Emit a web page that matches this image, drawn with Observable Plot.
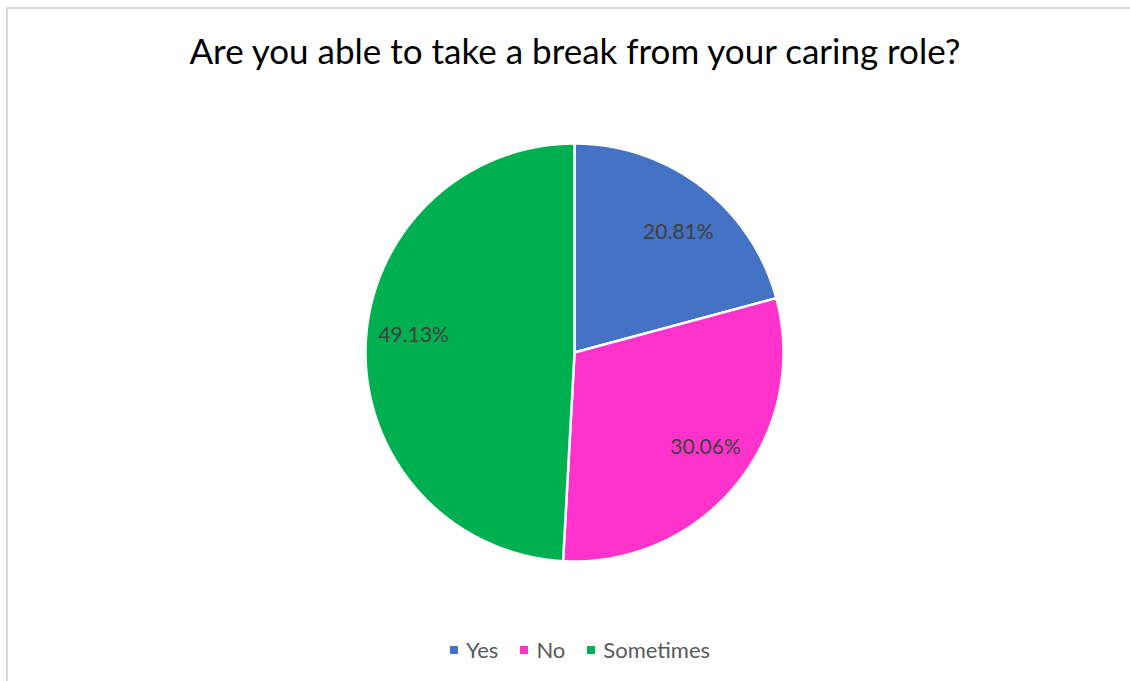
<!DOCTYPE html>
<html>
<head>
<meta charset="utf-8">
<script src="https://cdn.jsdelivr.net/npm/d3@7"></script>
<script src="https://cdn.jsdelivr.net/npm/@observablehq/plot@0.6"></script>
<style>
  html, body { margin: 0; padding: 0; background: #fff; overflow: hidden; }
  body { width: 1130px; height: 681px; position: relative; font-family: Lato, "Open Sans", sans-serif; }
  #frame { position: absolute; left: 6px; top: 7px; width: 1140px; height: 700px; border: 2px solid #d9d9d9; box-sizing: border-box; }
  #title { position: absolute; left: 0; top: 30px; width: 1150px; text-align: center; font-size: 35px; line-height: 40px; color: #000; }
  #chart { position: absolute; left: 0; top: 132px; }
  #legend { position: absolute; left: 0; top: 636px; width: 1160px; display: flex; justify-content: center; font-size: 22px; line-height: 28px; color: #595959; }
  .item { display: flex; align-items: center; margin: 0 11px; }
  .sw { width: 8px; height: 8px; margin-right: 8px; }
</style>
</head>
<body>
<div id="frame"></div>
<div id="title"></div>
<div id="chart"></div>
<div id="legend"></div>
<script>
const titleText = "Are you able to take a break from your caring role?";
const categories = ["Yes", "No", "Sometimes"];
const values = [20.81, 30.06, 49.13];
const colors = ["#4472C4", "#FF33CC", "#00B050"];

// label nudges (pixels) to mimic the spreadsheet's best-fit placement
const labelNudge = {Yes: [6, 8], No: [6, -7], Sometimes: [0, -13]};

document.getElementById("title").textContent = titleText;

const pie = d3.pie().sort(null).value(d => d.value)(categories.map((c, i) => ({category: c, value: values[i]})));

const polys = [];
const labels = [];
for (const s of pie) {
  const a0 = s.startAngle, a1 = s.endAngle;
  polys.push({category: s.data.category, x: 0, y: 0});
  const n = Math.max(2, Math.ceil((a1 - a0) / (Math.PI / 360)));
  for (let k = 0; k <= n; k++) {
    const a = a0 + (a1 - a0) * k / n;
    polys.push({category: s.data.category, x: Math.sin(a), y: Math.cos(a)});
  }
  const m = (a0 + a1) / 2;
  labels.push({category: s.data.category, x: 0.77 * Math.sin(m), y: 0.77 * Math.cos(m), text: s.data.value.toFixed(2) + "%"});
}

const plot = Plot.plot({
  width: 1130,
  height: 440,
  marginLeft: 365,
  marginRight: 347,
  marginTop: 11,
  marginBottom: 11,
  x: {domain: [-1, 1], axis: null},
  y: {domain: [-1, 1], axis: null},
  color: {domain: categories, range: colors},
  style: {fontFamily: "Lato, 'Open Sans', sans-serif", background: "transparent"},
  marks: [
    Plot.line(polys, {x: "x", y: "y", z: "category", fill: "category", stroke: "white", strokeWidth: 2.5, curve: "linear-closed"}),
    ...labels.map(l => Plot.text([l], {x: "x", y: "y", text: "text", fill: "#404040", fontSize: 21,
      dx: labelNudge[l.category][0], dy: labelNudge[l.category][1]}))
  ]
});
document.getElementById("chart").appendChild(plot);

const legend = document.getElementById("legend");
categories.forEach((c, i) => {
  const item = document.createElement("div");
  item.className = "item";
  const sw = document.createElement("div");
  sw.className = "sw";
  sw.style.background = colors[i];
  const t = document.createElement("span");
  t.textContent = c;
  item.appendChild(sw);
  item.appendChild(t);
  legend.appendChild(item);
});
</script>
</body>
</html>
